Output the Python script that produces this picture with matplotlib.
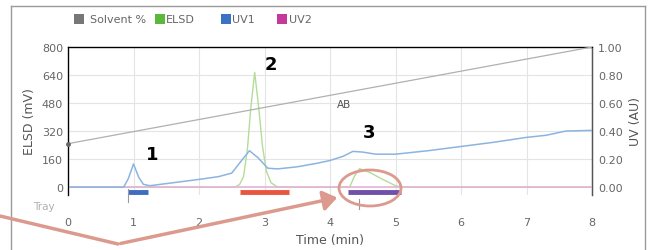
import matplotlib
matplotlib.use("Agg")
import matplotlib.pyplot as plt
from matplotlib.patches import Rectangle, Ellipse, FancyArrowPatch
from matplotlib.lines import Line2D

plt.rcParams["font.family"] = ["DejaVu Sans"]

# UV1 trace (AU)
uv1_time = [0, 0.85, 0.92, 1.0, 1.08, 1.15, 1.25, 1.5, 2.0, 2.3, 2.5, 2.65, 2.77, 2.9, 3.05,
            3.2, 3.5, 3.8, 4.0, 4.2, 4.35, 4.5, 4.7, 5.0, 5.5, 6.0, 6.5, 7.0, 7.3, 7.6, 8.0]
uv1_au = [0, 0.0, 0.06, 0.165, 0.07, 0.02, 0.01, 0.025, 0.055, 0.075, 0.1, 0.19, 0.26, 0.21, 0.135,
          0.13, 0.145, 0.17, 0.19, 0.22, 0.255, 0.25, 0.235, 0.235, 0.26, 0.29, 0.32, 0.355, 0.37, 0.4, 0.405]

# ELSD trace (mV)
elsd_time = [0, 2.55, 2.62, 2.68, 2.74, 2.79, 2.85, 2.91, 2.97, 3.03, 3.1, 3.2,
             4.3, 4.37, 4.45, 4.6, 4.8, 5.0, 5.1, 8]
elsd_mv = [0, 0, 15, 60, 220, 450, 655, 460, 230, 90, 25, 0,
           0, 60, 105, 85, 45, 8, 0, 0]

# UV2 trace (AU)
uv2_time = [0, 8]
uv2_au = [0, 0]

# solvent gradient (%)
solvent_time = [0, 8]
solvent_pct = [31, 100]

# collected fractions
frac_start = [0.91, 2.62, 4.27]
frac_end = [1.22, 3.38, 5.09]
frac_colors = ["#3d6cc0", "#e8563f", "#7050a8"]

# peak labels
peak_names = ["1", "2", "3"]
peak_x = [1.28, 3.1, 4.6]
peak_y = [189, 703, 314]

legend_names = ["Solvent %", "ELSD", "UV1", "UV2"]
legend_colors = ["#777777", "#5cb83c", "#3a72c4", "#c43a9c"]

W, H = 653, 251
fig = plt.figure(figsize=(W / 100, H / 100), dpi=100)

def fx(px):
    return px / W

def fy(py):
    return 1 - py / H

ax = fig.add_axes([fx(68), fy(196), fx(592) - fx(68), fy(48) - fy(196)])
ax.set_xlim(0, 8)
ax.set_ylim(-45, 800)
ax.set_xticks(range(0, 9))
ax.set_yticks([0, 160, 320, 480, 640, 800])
ax.grid(True, color="#e4e4e4", linewidth=0.8)
ax.set_axisbelow(True)
for s in ["left", "right", "top"]:
    ax.spines[s].set_color("#555555")
    ax.spines[s].set_linewidth(1.0)
ax.spines["bottom"].set_visible(False)
ax.tick_params(axis="both", length=0, labelsize=8, labelcolor="#666666")
ax.tick_params(axis="y", pad=3.5)
ax.tick_params(axis="x", pad=16)
ax.set_xlabel("Time (min)", fontsize=9, color="#555555", labelpad=4)
ax.set_ylabel("ELSD (mV)", fontsize=9, color="#555555", labelpad=4)

ax2 = ax.twinx()
ax2.set_ylim(-45 / 800, 1.0)
ax2.set_yticks([0, 0.2, 0.4, 0.6, 0.8, 1.0])
ax2.set_yticklabels(["0.00", "0.20", "0.40", "0.60", "0.80", "1.00"])
ax2.tick_params(axis="y", length=0, labelsize=8, labelcolor="#666666", pad=4.5)
ax2.spines["bottom"].set_visible(False)
ax2.spines["right"].set_color("#555555")
ax2.set_ylabel("UV (AU)", fontsize=9, color="#555555", labelpad=4)

ax3 = ax.twinx()
ax3.set_ylim(-45 / 8, 100)
ax3.axis("off")

ax3.plot(solvent_time, solvent_pct, color="#b0b0b0", linewidth=0.9)
ax3.plot(solvent_time[0], solvent_pct[0], "o", color="#666666", markersize=2.5, clip_on=False)
ax.text(4.1, 455, "AB", fontsize=7.5, color="#555555")

ax2.plot(uv2_time, uv2_au, color="#e6b4d8", linewidth=1.2)
ax.plot(elsd_time, elsd_mv, color="#b4dc98", linewidth=1.0)
ax2.plot(uv1_time, uv1_au, color="#8cb4e0", linewidth=1.1)

for x0, x1, c in zip(frac_start, frac_end, frac_colors):
    ax.plot([x0, x1], [-29, -29], color=c, linewidth=3.5, solid_capstyle="butt")

ax.plot([0.91, 0.91], [-10, -85], color="#999999", linewidth=0.8, clip_on=False)
ax.plot([4.44, 4.44], [-70, -125], color="#999999", linewidth=0.8, clip_on=False)
ax.text(-0.2, -110, "Tray", fontsize=7.5, color="#b0b0b0", ha="right", va="center")

for name, x, y in zip(peak_names, peak_x, peak_y):
    ax.text(x, y, name, fontsize=13, fontweight="bold", color="black", ha="center", va="center")

# legend: coloured box, then label
box_x = [74, 155, 221, 277]
text_x = [90, 166, 232, 289]
for bx, tx, name, c in zip(box_x, text_x, legend_names, legend_colors):
    fig.add_artist(Rectangle((fx(bx), fy(25)), fx(10), fy(15) - fy(25), facecolor=c,
                             edgecolor="none", transform=fig.transFigure))
    fig.text(fx(tx), fy(20), name, fontsize=8, color="#666666", va="center")

# outer frame
frame = "#9a9a9a"
fig.add_artist(Line2D([fx(11), fx(645)], [fy(7), fy(7)], color=frame, linewidth=1.0))
fig.add_artist(Line2D([fx(11), fx(11)], [fy(7), 0], color=frame, linewidth=1.0))
fig.add_artist(Line2D([fx(645), fx(645)], [fy(7), 0], color=frame, linewidth=1.0))

# callout overlay
pink = "#dc9a8e"
fig.add_artist(Line2D([fx(0), fx(118)], [fy(217), fy(245)], color=pink, linewidth=2.5,
                      solid_capstyle="round"))
fig.add_artist(FancyArrowPatch((fx(118), fy(245)), (fx(340), fy(198)), transform=fig.transFigure,
                               arrowstyle="-|>,head_length=7,head_width=5", color=pink,
                               linewidth=2.5, mutation_scale=1.2))
fig.add_artist(Ellipse((fx(370), fy(189)), fx(62), fy(0) - fy(36), transform=fig.transFigure,
                       fill=False, edgecolor=pink, linewidth=2.0))

fig.savefig("out.png", dpi=100)
